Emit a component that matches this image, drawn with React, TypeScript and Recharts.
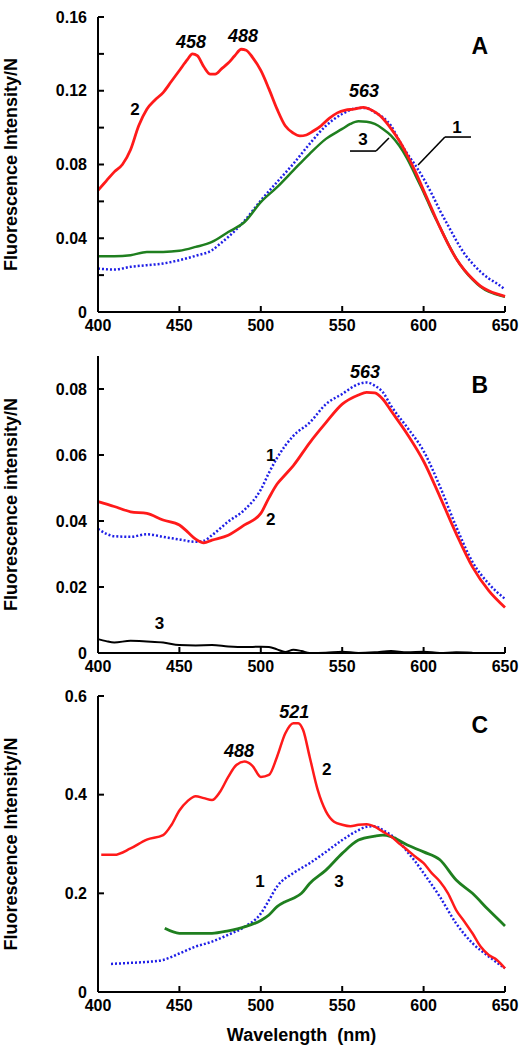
import { LineChart, Line, XAxis, YAxis, ReferenceDot, ReferenceLine } from "recharts";

const FONT = '"Liberation Sans", Arial, Helvetica, sans-serif';
const RED = "#ff1a1a";
const BLUE = "#1f1fe6";
const GREEN = "#1f7f1f";

// ---- panel A ----
const A1_NM = [400, 410, 420, 430, 440, 450, 460, 470, 475, 480, 490, 500, 510, 520, 530, 540, 550, 560, 565, 570, 575, 580, 585, 590, 595, 600, 605, 610, 615, 620, 625, 630, 635, 640, 645, 650];
const A1_VAL = [0.0236, 0.023, 0.0245, 0.0254, 0.0263, 0.0281, 0.0305, 0.0335, 0.037, 0.0407, 0.0495, 0.0605, 0.0705, 0.0804, 0.0912, 0.101, 0.1074, 0.1106, 0.1106, 0.1083, 0.1056, 0.101, 0.093, 0.0858, 0.0795, 0.0723, 0.0641, 0.0551, 0.047, 0.0389, 0.0317, 0.0263, 0.0218, 0.0182, 0.0155, 0.0122];

const A2_NM = [400, 405, 410, 415, 420, 425, 430, 435, 440, 445, 450, 455, 458, 461, 465, 469, 472, 476, 480, 484, 488, 491, 495, 500, 505, 510, 515, 520, 524, 528, 532, 537, 542, 547, 552, 557, 563, 567, 571, 575, 580, 585, 590, 595, 600, 605, 610, 615, 620, 625, 630, 635, 640, 645, 650];
const A2_VAL = [0.066, 0.071, 0.076, 0.08, 0.088, 0.101, 0.11, 0.115, 0.119, 0.125, 0.131, 0.137, 0.14, 0.139, 0.133, 0.129, 0.129, 0.132, 0.135, 0.139, 0.1425, 0.142, 0.138, 0.131, 0.121, 0.11, 0.101, 0.097, 0.0955, 0.096, 0.098, 0.101, 0.105, 0.108, 0.1095, 0.11, 0.111, 0.11, 0.108, 0.105, 0.0995, 0.093, 0.085, 0.076, 0.066, 0.056, 0.046, 0.037, 0.029, 0.0228, 0.018, 0.014, 0.0115, 0.0098, 0.0085];

const A3_NM = [400, 410, 420, 430, 440, 450, 460, 470, 480, 490, 500, 510, 520, 530, 540, 550, 555, 560, 565, 570, 575, 580, 585, 590, 595, 600, 605, 610, 615, 620, 625, 630, 635, 640, 645, 650];
const A3_VAL = [0.0303, 0.0303, 0.0308, 0.0326, 0.0326, 0.0332, 0.0353, 0.038, 0.0434, 0.0488, 0.0596, 0.0677, 0.0768, 0.0858, 0.0939, 0.0993, 0.102, 0.1034, 0.1032, 0.102, 0.0993, 0.0957, 0.0903, 0.0831, 0.0741, 0.065, 0.0551, 0.0461, 0.0371, 0.029, 0.0227, 0.0177, 0.0137, 0.011, 0.0095, 0.0083];

// ---- panel B ----
const B1_NM = [400, 410, 420, 430, 440, 450, 460, 465, 470, 480, 490, 500, 505, 510, 520, 530, 540, 550, 560, 565, 570, 575, 580, 590, 600, 610, 620, 630, 640, 650];
const B1_VAL = [0.0376, 0.0354, 0.0352, 0.036, 0.0352, 0.0344, 0.0337, 0.034, 0.0357, 0.0398, 0.0434, 0.0495, 0.0546, 0.0591, 0.0658, 0.0698, 0.0754, 0.0785, 0.0815, 0.082, 0.081, 0.079, 0.0749, 0.0683, 0.0612, 0.0505, 0.0383, 0.0276, 0.021, 0.0164];

const B2_NM = [400, 410, 420, 430, 440, 450, 455, 460, 465, 470, 480, 490, 500, 505, 510, 515, 520, 530, 540, 550, 560, 565, 570, 575, 580, 590, 600, 610, 620, 630, 640, 650];
const B2_VAL = [0.0459, 0.0444, 0.0428, 0.0423, 0.0403, 0.0388, 0.0367, 0.0345, 0.0334, 0.0342, 0.0357, 0.0388, 0.0423, 0.047, 0.0512, 0.054, 0.0568, 0.0637, 0.0698, 0.0754, 0.0782, 0.079, 0.0788, 0.0769, 0.0734, 0.0663, 0.0581, 0.0474, 0.0362, 0.0261, 0.0189, 0.0138];

const B3_NM = [400, 405, 410, 420, 430, 440, 450, 460, 470, 480, 490, 500, 505, 510, 515, 520, 525, 530, 540, 550, 560, 570, 580, 590, 600, 610, 620, 630];
const B3_VAL = [0.0042, 0.0036, 0.0032, 0.0037, 0.0035, 0.0032, 0.0024, 0.0023, 0.0024, 0.002, 0.0018, 0.0019, 0.0018, 0.0011, 0.0003, 0.001, 0.0006, 0, 0.0001, 0.0004, 0, 0.0002, 0.0006, 0.0002, 0.0004, 0, 0.0002, 0.0001];

// ---- panel C ----
const C1_NM = [408, 420, 430, 440, 450, 460, 470, 480, 490, 500, 505, 510, 520, 530, 540, 550, 560, 565, 570, 575, 580, 585, 590, 595, 600, 610, 620, 630, 640, 650];
const C1_VAL = [0.057, 0.059, 0.061, 0.065, 0.078, 0.092, 0.102, 0.116, 0.132, 0.159, 0.186, 0.214, 0.241, 0.261, 0.284, 0.308, 0.328, 0.335, 0.336, 0.328, 0.318, 0.305, 0.284, 0.264, 0.241, 0.193, 0.139, 0.099, 0.072, 0.048];

const C2_NM = [402, 410, 420, 430, 440, 445, 450, 455, 460, 465, 470, 475, 480, 485, 490, 495, 500, 505, 510, 515, 520, 523, 526, 530, 535, 540, 545, 550, 555, 560, 565, 570, 575, 580, 585, 590, 595, 600, 605, 610, 615, 620, 625, 630, 635, 640, 645, 650];
const C2_VAL = [0.278, 0.278, 0.291, 0.309, 0.318, 0.338, 0.368, 0.387, 0.397, 0.393, 0.389, 0.406, 0.436, 0.46, 0.467, 0.458, 0.436, 0.44, 0.477, 0.524, 0.545, 0.545, 0.531, 0.477, 0.409, 0.366, 0.345, 0.339, 0.336, 0.339, 0.34, 0.335, 0.325, 0.315, 0.301, 0.288, 0.274, 0.261, 0.241, 0.224, 0.2, 0.166, 0.143, 0.119, 0.092, 0.075, 0.065, 0.048];

const C3_NM = [441, 450, 460, 470, 480, 490, 500, 505, 510, 515, 520, 525, 530, 540, 550, 560, 570, 575, 580, 590, 600, 610, 620, 630, 640, 650];
const C3_VAL = [0.129, 0.119, 0.119, 0.119, 0.124, 0.132, 0.145, 0.156, 0.173, 0.183, 0.19, 0.2, 0.22, 0.247, 0.281, 0.308, 0.316, 0.318, 0.315, 0.298, 0.284, 0.268, 0.227, 0.2, 0.166, 0.134];

const X_TICKS = [400, 450, 500, 550, 600, 650];
const A_TICKS = [0, 0.02, 0.04, 0.06, 0.08, 0.1, 0.12, 0.14, 0.16];
const B_TICKS = [0, 0.02, 0.04, 0.06, 0.08];
const C_TICKS = [0, 0.2, 0.4, 0.6];

type Series = { nm: number[]; val: number[]; color: string; width: number; dash?: string };
type Note = { x: number; y: number; text: string; size: number; italic?: boolean };

const zip = (nm: number[], val: number[]) => nm.map((x, i) => ({ x, y: val[i] }));

const noteLabel = (n: Note) => (props: any) => {
  const vb = props.viewBox;
  return (
    <text
      x={vb.x + vb.width / 2}
      y={vb.y + vb.height / 2}
      textAnchor="middle"
      dominantBaseline="central"
      fontFamily={FONT}
      fontSize={n.size}
      fontWeight="bold"
      fontStyle={n.italic ? "italic" : "normal"}
      fill="#000"
    >
      {n.text}
    </text>
  );
};

const yTitle = (text: string) => (props: any) => {
  const vb = props.viewBox;
  const cy = vb.y + vb.height / 2;
  return (
    <text
      x={11}
      y={cy}
      transform={`rotate(-90 11 ${cy})`}
      textAnchor="middle"
      dominantBaseline="central"
      fontFamily={FONT}
      fontSize={18}
      fontWeight="bold"
      fill="#000"
    >
      {text}
    </text>
  );
};

const xTitle = (text: string) => (props: any) => {
  const vb = props.viewBox;
  return (
    <text
      x={vb.x + vb.width / 2}
      y={vb.y + 43}
      textAnchor="middle"
      dominantBaseline="central"
      fontFamily={FONT}
      fontSize={18}
      fontWeight="bold"
      fill="#000"
      style={{ whiteSpace: "pre" }}
    >
      {text}
    </text>
  );
};

const tickStyle = { fontSize: 16, fontWeight: "bold", fill: "#000", fontFamily: FONT };
const axisStroke = { stroke: "#000", strokeWidth: 2 };

type PanelProps = {
  top: number;
  height: number;
  marginTop: number;
  xAxisHeight: number;
  yMax: number;
  yTicks: number[];
  yFmt: (v: number, i: number) => string;
  title: string;
  letter: Note;
  series: Series[];
  notes: Note[];
  leads: { x: number; y: number }[][];
  boxTicks?: boolean;
  xLabel?: string;
};

function Panel(p: PanelProps) {
  return (
    <div style={{ position: "absolute", left: 0, top: p.top }}>
      <LineChart width={522} height={p.height} margin={{ top: p.marginTop, right: 17, bottom: 0, left: 0 }}>
        <XAxis
          xAxisId="b"
          type="number"
          dataKey="x"
          domain={[400, 650]}
          ticks={X_TICKS}
          interval={0}
          height={p.xAxisHeight}
          tick={tickStyle}
          tickSize={-6}
          tickMargin={14}
          axisLine={axisStroke}
          tickLine={axisStroke}
          label={p.xLabel ? xTitle(p.xLabel) : undefined}
        />
        <XAxis
          xAxisId="t"
          orientation="top"
          type="number"
          domain={[400, 650]}
          ticks={p.boxTicks ? [450, 500, 550, 600] : []}
          height={0}
          tick={false}
          tickSize={-6}
          axisLine={axisStroke}
          tickLine={p.boxTicks ? axisStroke : false}
        />
        <YAxis
          yAxisId="l"
          type="number"
          domain={[0, p.yMax]}
          ticks={p.yTicks}
          interval={0}
          width={98}
          tick={tickStyle}
          tickFormatter={p.yFmt}
          tickSize={-6}
          tickMargin={17}
          axisLine={axisStroke}
          tickLine={axisStroke}
          label={yTitle(p.title)}
        />
        <YAxis
          yAxisId="r"
          orientation="right"
          type="number"
          domain={[0, p.yMax]}
          ticks={p.boxTicks ? p.yTicks.slice(1, -1) : []}
          width={0}
          tick={false}
          tickSize={-6}
          axisLine={axisStroke}
          tickLine={p.boxTicks ? axisStroke : false}
        />
        {p.series.map((s, i) => (
          <Line
            key={i}
            xAxisId="b"
            yAxisId="l"
            data={zip(s.nm, s.val)}
            dataKey="y"
            type="monotone"
            stroke={s.color}
            strokeWidth={s.width}
            strokeDasharray={s.dash}
            dot={false}
            activeDot={false}
            isAnimationActive={false}
          />
        ))}
        {p.leads.map((pts, i) =>
          pts.slice(1).map((pt, j) => (
            <ReferenceLine
              key={`${i}-${j}`}
              xAxisId="b"
              yAxisId="l"
              segment={[pts[j], pt]}
              stroke="#000"
              strokeWidth={1.6}
            />
          ))
        )}
        {[...p.notes, p.letter].map((n, i) => (
          <ReferenceDot key={`n${i}`} xAxisId="b" yAxisId="l" x={n.x} y={n.y} r={0} stroke="none" fill="none" label={noteLabel(n)} />
        ))}
      </LineChart>
    </div>
  );
}

const fmt2 = (v: number) => (v === 0 ? "0" : v.toFixed(2));

export default function App() {
  return (
    <div style={{ position: "absolute", left: 0, top: 0, width: 522, height: 1050, background: "#fff" }}>
      <Panel
        top={0}
        height={340}
        marginTop={17}
        xAxisHeight={28}
        yMax={0.16}
        yTicks={A_TICKS}
        yFmt={(v, i) => (i % 2 === 0 ? fmt2(v) : "")}
        title="Fluorescence Intensity/N"
        letter={{ x: 634.6, y: 0.1443, text: "A", size: 23 }}
        series={[
          { nm: A1_NM, val: A1_VAL, color: BLUE, width: 2.5, dash: "2 2" },
          { nm: A3_NM, val: A3_VAL, color: GREEN, width: 2.5 },
          { nm: A2_NM, val: A2_VAL, color: RED, width: 2.8 },
        ]}
        notes={[
          { x: 457.1, y: 0.1464, text: "458", size: 18, italic: true },
          { x: 489.1, y: 0.1497, text: "488", size: 18, italic: true },
          { x: 563.4, y: 0.1199, text: "563", size: 18, italic: true },
          { x: 422.7, y: 0.1101, text: "2", size: 17 },
          { x: 562.8, y: 0.0938, text: "3", size: 17 },
          { x: 620.5, y: 0.1003, text: "1", size: 17 },
        ]}
        leads={[
          [
            { x: 554.8, y: 0.0873 },
            { x: 570.8, y: 0.0873 },
            { x: 578.7, y: 0.0944 },
          ],
          [
            { x: 629.1, y: 0.0949 },
            { x: 613.1, y: 0.0949 },
            { x: 596.6, y: 0.0797 },
          ],
        ]}
      />
      <Panel
        top={340}
        height={340}
        marginTop={16}
        xAxisHeight={27}
        yMax={0.09}
        yTicks={B_TICKS}
        yFmt={(v) => fmt2(v)}
        title="Fluorescence intensity/N"
        letter={{ x: 634.6, y: 0.0812, text: "B", size: 23 }}
        series={[
          { nm: B3_NM, val: B3_VAL, color: "#000", width: 2 },
          { nm: B1_NM, val: B1_VAL, color: BLUE, width: 2.5, dash: "2 2" },
          { nm: B2_NM, val: B2_VAL, color: RED, width: 2.8 },
        ]}
        notes={[
          { x: 564, y: 0.0852, text: "563", size: 18, italic: true },
          { x: 506.1, y: 0.06, text: "1", size: 17 },
          { x: 506.1, y: 0.0406, text: "2", size: 17 },
          { x: 437.7, y: 0.0088, text: "3", size: 17 },
        ]}
        leads={[]}
      />
      <Panel
        top={680}
        height={370}
        marginTop={16}
        xAxisHeight={58}
        yMax={0.6}
        yTicks={C_TICKS}
        yFmt={(v) => (v === 0 ? "0" : v.toFixed(1))}
        title="Fluorescence Intensity/N"
        letter={{ x: 634.6, y: 0.541, text: "C", size: 23 }}
        series={[
          { nm: C1_NM, val: C1_VAL, color: BLUE, width: 2.5, dash: "2 2" },
          { nm: C3_NM, val: C3_VAL, color: GREEN, width: 2.8 },
          { nm: C2_NM, val: C2_VAL, color: RED, width: 2.5 },
        ]}
        notes={[
          { x: 520.6, y: 0.567, text: "521", size: 18, italic: true },
          { x: 486.6, y: 0.489, text: "488", size: 18, italic: true },
          { x: 540.5, y: 0.451, text: "2", size: 17 },
          { x: 499.5, y: 0.225, text: "1", size: 17 },
          { x: 548, y: 0.225, text: "3", size: 17 },
        ]}
        leads={[]}
        boxTicks
        xLabel="Wavelength  (nm)"
      />
    </div>
  );
}
